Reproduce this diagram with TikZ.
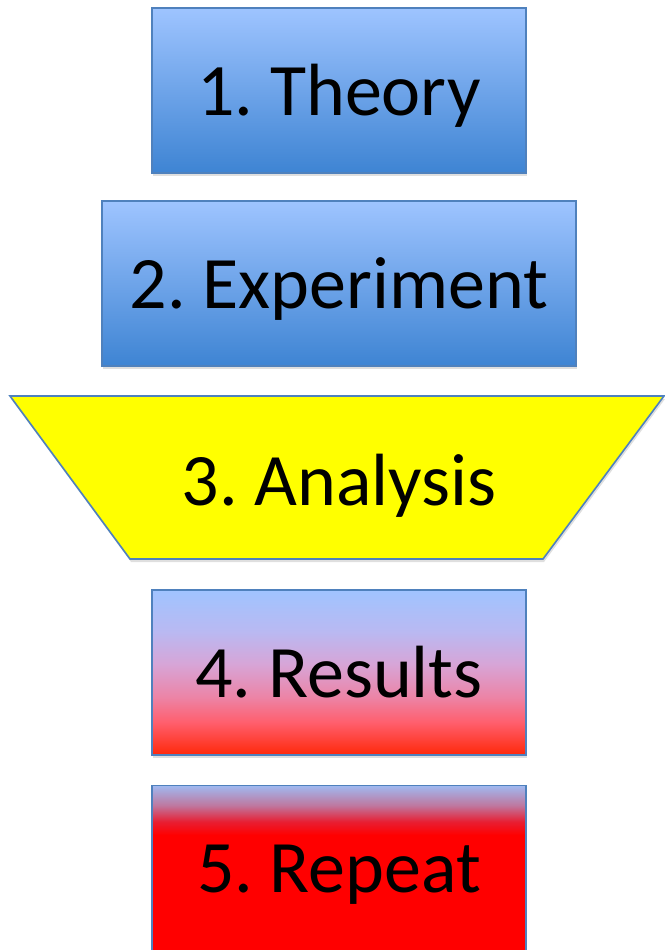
\documentclass[tikz,border=0pt]{standalone}
\usepackage{fontspec}
\setmainfont{Carlito}
\usetikzlibrary{shadows}
\frenchspacing

\definecolor{boxline}{RGB}{79,129,189}
\definecolor{skytop}{RGB}{158,196,255}
\definecolor{skybot}{RGB}{62,132,211}
\definecolor{analysisfill}{RGB}{255,255,0}

\pgfdeclareverticalshading{resultsshade}{100bp}{%
  color(0bp)=(rgb,255:red,255;green,40;blue,10);
  color(25bp)=(rgb,255:red,255;green,40;blue,10);
  color(35bp)=(rgb,255:red,255;green,95;blue,110);
  color(42.5bp)=(rgb,255:red,236;green,132;blue,166);
  color(52.5bp)=(rgb,255:red,215;green,165;blue,215);
  color(62.5bp)=(rgb,255:red,185;green,185;blue,242);
  color(75bp)=(rgb,255:red,160;green,196;blue,255);
  color(100bp)=(rgb,255:red,160;green,196;blue,255)}

\pgfdeclareverticalshading{repeatshade}{100bp}{%
  color(0bp)=(rgb,255:red,255;green,0;blue,0);
  color(60bp)=(rgb,255:red,255;green,0;blue,0);
  color(64bp)=(rgb,255:red,232;green,30;blue,50);
  color(69bp)=(rgb,255:red,190;green,120;blue,160);
  color(75bp)=(rgb,255:red,160;green,185;blue,240);
  color(100bp)=(rgb,255:red,160;green,185;blue,240)}

\tikzset{
  steptext/.style={font=\fontsize{74}{80}\selectfont,
    text height=63pt, text depth=14pt},
  stepbox/.style={steptext, draw=boxline, line width=1.6pt, rectangle,
    minimum height=165pt, inner sep=0pt,
    drop shadow={shadow xshift=1pt, shadow yshift=-3pt, opacity=0.25}},
  bluebox/.style={stepbox, top color=skytop, bottom color=skybot}
}

\begin{document}
\begin{tikzpicture}[x=1pt,y=-1pt]
  \useasboundingbox (0,0) rectangle (664,950);
  \node[bluebox, minimum width=374pt] (theory) at (339,90.5) {1. Theory};
  \node[bluebox, minimum width=474pt] (experiment) at (339,283.5) {2. Experiment};
  \draw[draw=boxline, line width=1.6pt, fill=analysisfill,
    drop shadow={shadow xshift=1pt, shadow yshift=-3pt, opacity=0.25}]
    (10,396) -- (664,396) -- (543,559) -- (130,559) -- cycle;
  \node[steptext, inner sep=0pt] (analysis) at (339,481) {3. Analysis};
  \node[stepbox, minimum width=374pt, shading=resultsshade] (results) at (339,672.5) {4. Results};
  \node[stepbox, minimum width=374pt, shading=repeatshade] (repeat) at (339,868) {5. Repeat};
\end{tikzpicture}
\end{document}
